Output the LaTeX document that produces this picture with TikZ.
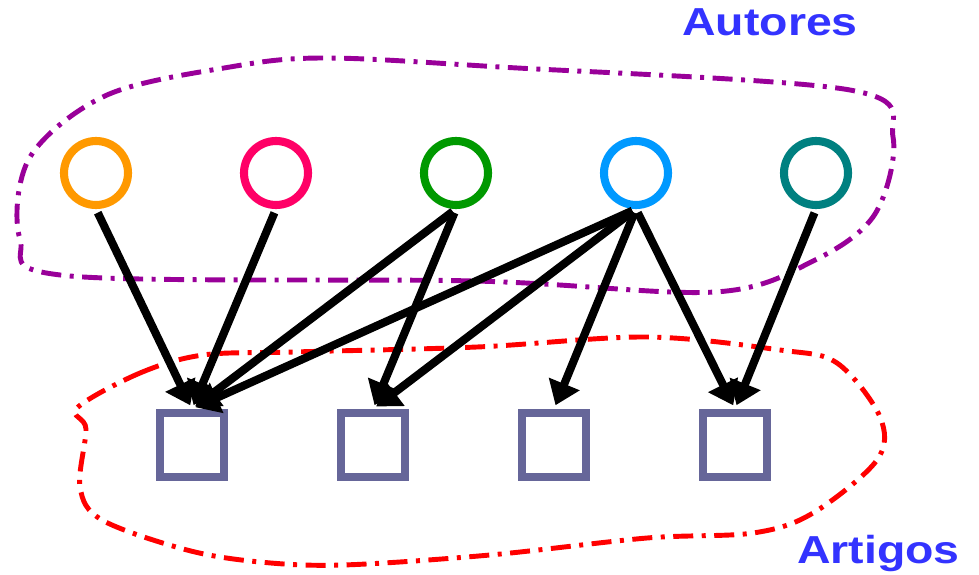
\documentclass[tikz,border=0pt]{standalone}
\usepackage{fontspec}
\setmainfont{Liberation Sans}
\usetikzlibrary{arrows.meta}
\definecolor{laranja}{RGB}{255,153,0}
\definecolor{rosa}{RGB}{255,0,102}
\definecolor{verde}{RGB}{0,153,0}
\definecolor{azul}{RGB}{0,153,255}
\definecolor{petroleo}{RGB}{0,128,128}
\definecolor{lilas}{RGB}{102,102,153}
\definecolor{roxo}{RGB}{153,0,153}
\definecolor{titulo}{RGB}{51,51,255}

\begin{document}
\begin{tikzpicture}[autor/.style={circle,draw=#1,line width=4.6pt,minimum size=1.28cm,inner sep=0},
  artigo/.style={rectangle,draw=lilas,line width=4.6pt,minimum size=1.28cm,inner sep=0},
  seta/.style={line width=4.6pt,shorten <=2.3pt,shorten >=2.3pt,-{Triangle[length=0.46cm,width=0.64cm]}},
  contorno/.style={line width=2.8pt,dash pattern=on 0.4cm off 0.17cm on 0.08cm off 0.17cm},
  rotulo/.style={text=titulo,font=\bfseries\fontsize{22.2}{24}\selectfont,inner sep=0,anchor=base}]
\useasboundingbox (0,0) rectangle (19.58,11.48);
% contornos dos grupos
\draw[contorno,roxo] plot[smooth cycle,tension=.55] coordinates{(1.4,5.96) (9.5,5.86) (14.3,5.64)
  (16.3,6.28) (17.5,7.2) (17.86,8.74) (17.0,9.68) (10,10.14) (6.5,10.32) (4.6,10.14) (2.14,9.58)
  (0.6,8.34) (0.4,6.7)};
\draw[contorno,red] plot[smooth cycle,tension=.55] coordinates{(1.54,3.32) (2.8,4.02) (4.06,4.38)
  (5.86,4.44) (9.54,4.54) (12.94,4.74) (15.6,4.48) (16.74,4.22) (17.6,3.14) (17.54,2.28)
  (16.26,1.22) (15.06,0.82) (12.94,0.72) (9.8,0.38) (6.86,0.18) (5.2,0.24) (3.74,0.48)
  (2.04,1.08) (1.6,1.74) (1.72,2.9)};
% autores e artigos
\foreach \c/\x [count=\i] in {laranja/1.92,rosa/5.52,verde/9.12,azul/12.72,petroleo/16.32}
  \node[autor=\c] (a\i) at (\x,8.02) {};
\foreach \x [count=\i] in {3.84,7.46,11.08,14.7}
  \node[artigo] (p\i) at (\x,2.58) {};
\foreach \a/\p in {1/1,2/1,3/1,3/2,4/1,4/2,4/3,4/4,5/4}
  \draw[seta] (a\a.south) -- (p\p.north);
\node[rotulo] (autores) at (15.4,10.76) {\scalebox{1.19}[1]{Autores}};
\node[rotulo] (artigos) at (17.57,0.22) {\scalebox{1.19}[1]{Artigos}};
\end{tikzpicture}
\end{document}
